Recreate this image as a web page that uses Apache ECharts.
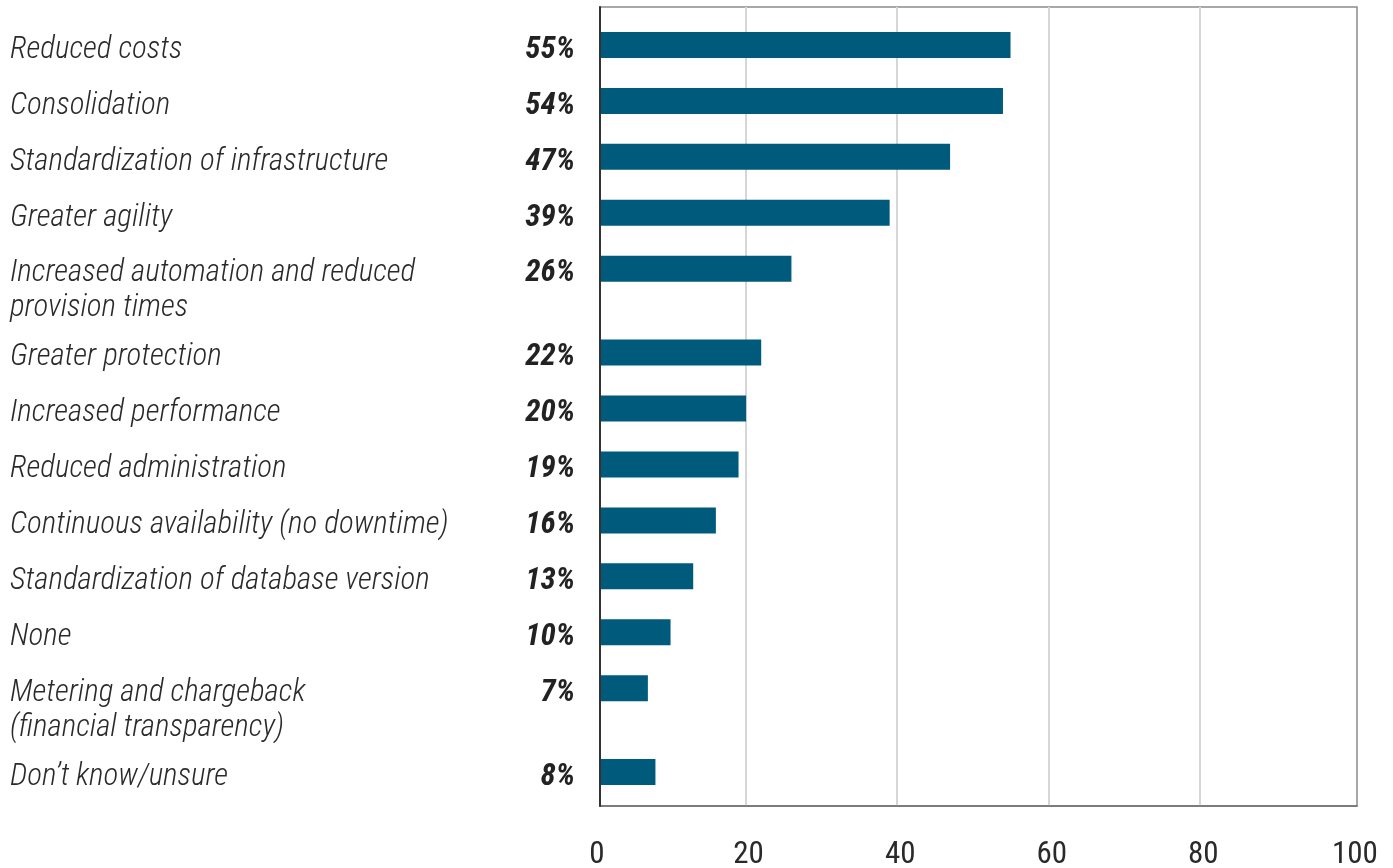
<!DOCTYPE html>
<html>
<head>
<meta charset="utf-8">
<title>Benefits</title>
<script src="https://cdn.jsdelivr.net/npm/echarts@6/dist/echarts.min.js"></script>
<style>
  html, body { margin: 0; padding: 0; background: #ffffff; }
  #chart { width: 1393px; height: 868px; }
</style>
</head>
<body>
<div id="chart"></div>
<script>
// Survey answers, top to bottom; "\n" marks where a long answer wraps.
const categories = [
  'Reduced costs',
  'Consolidation',
  'Standardization of infrastructure',
  'Greater agility',
  'Increased automation and reduced\nprovision times',
  'Greater protection',
  'Increased performance',
  'Reduced administration',
  'Continuous availability (no downtime)',
  'Standardization of database version',
  'None',
  'Metering and chargeback\n(financial transparency)',
  'Don\u2019t know/unsure'
];
// Share of respondents, percent.
const values = [55, 54, 47, 39, 26, 22, 20, 19, 16, 13, 10, 7, 8];
// Value axis tick labels.
const xTicks = [0, 20, 40, 60, 80, 100];

const FONT = "'Roboto Condensed', 'Liberation Sans Narrow', 'DejaVu Sans Condensed', Roboto, sans-serif";
const BAR = '#005a7c';

// Each answer takes two half-row slots; a wrapped answer takes three,
// so its second text line gets room before the next bar.
const slotLabel = [];
const slotValue = [];
categories.forEach((c, i) => {
  const lines = c.split('\n').length;
  const slots = lines > 1 ? 3 : 2;
  slotLabel.push(c);
  slotValue.push(values[i]);
  for (let k = 1; k < slots; k++) {
    slotLabel.push('');
    slotValue.push('-');
  }
});
const slotIds = slotLabel.map((_, i) => String(i));
const tickStep = xTicks[1] - xTicks[0];
const xMax = xTicks[xTicks.length - 1];

const chart = echarts.init(document.getElementById('chart'), null, { renderer: 'canvas' });

chart.setOption({
  backgroundColor: '#ffffff',
  animation: false,
  grid: [
    // 0: bars
    { left: 600, top: 31, width: 750.5, height: 783, outerBoundsMode: 'none' },
    // 1: vertical guide lines
    { left: 595, top: 7, width: 755.5, height: 799, outerBoundsMode: 'none' },
    // 2: frame
    { left: 600, top: 7, width: 757, height: 799, show: true, outerBoundsMode: 'none',
      borderColor: '#8c8c8c', borderWidth: 1.5, backgroundColor: 'transparent' },
    // 3: value-axis labels (runs a little past 100 so 100 is an ordinary tick)
    { left: 597, top: 7, width: 780.7, height: 799, outerBoundsMode: 'none' },
    // 4: answer labels, same slots as the bars, sitting slightly lower
    { left: 600, top: 36, width: 750.5, height: 783, outerBoundsMode: 'none' }
  ],
  xAxis: [
    { gridIndex: 0, type: 'value', min: 0.662, max: xMax, show: false },
    { gridIndex: 1, type: 'value', min: 0, max: xMax, interval: tickStep,
      axisLine: { show: false }, axisTick: { show: false }, axisLabel: { show: false },
      splitLine: { show: true, showMinLine: false, showMaxLine: false,
        lineStyle: { color: '#d6d6d6', width: 2 } } },
    { gridIndex: 2, type: 'value', min: 0, max: xMax, interval: tickStep,
      axisLine: { show: true, lineStyle: { color: '#6e6e6e', width: 1.5 } },
      axisTick: { show: false }, splitLine: { show: false }, axisLabel: { show: false } },
    { gridIndex: 3, type: 'value', min: 0, max: 103, interval: tickStep,
      axisLine: { show: false }, axisTick: { show: false }, splitLine: { show: false },
      axisLabel: { show: true, margin: 34, fontSize: 31, color: '#2a2a2a', fontFamily: FONT,
        showMaxLabel: false, alignMinLabel: 'center', alignMaxLabel: 'center',
        formatter: v => (xTicks.indexOf(v) >= 0 ? String(v) : '') } },
    { gridIndex: 4, type: 'value', min: 0, max: xMax, show: false }
  ],
  yAxis: [
    { gridIndex: 0, type: 'category', inverse: true, data: slotIds, show: false },
    { gridIndex: 1, type: 'value', min: 0, max: 1, show: false },
    { gridIndex: 2, type: 'value', min: 0, max: 1, z: 5,
      axisLine: { show: true, lineStyle: { color: '#333333', width: 2 } },
      axisTick: { show: false }, axisLabel: { show: false }, splitLine: { show: false } },
    { gridIndex: 3, type: 'value', min: 0, max: 1, show: false },
    { gridIndex: 4, type: 'category', inverse: true, data: slotIds,
      axisLine: { show: false }, axisTick: { show: false }, splitLine: { show: false },
      axisLabel: {
        show: true, interval: 0, align: 'left', margin: 590,
        fontSize: 31, fontStyle: 'italic', fontWeight: 300, color: '#2a2a2a',
        fontFamily: FONT, lineHeight: 35,
        // wrapped answers: a blank leading line keeps the first line level with the bar
        formatter: (v, idx) => {
          const t = slotLabel[idx];
          return t.indexOf('\n') >= 0 ? '\n' + t : t;
        }
      } }
  ],
  series: [{
    type: 'bar',
    xAxisIndex: 0,
    yAxisIndex: 0,
    data: slotValue,
    barWidth: 26,
    clip: true,
    itemStyle: { color: BAR },
    label: {
      show: true, position: 'left', distance: 25, offset: [0, 5],
      formatter: p => p.value + '%',
      fontSize: 31, fontStyle: 'italic', fontWeight: 'bold', color: '#222222', fontFamily: FONT
    }
  }]
});
</script>
</body>
</html>
